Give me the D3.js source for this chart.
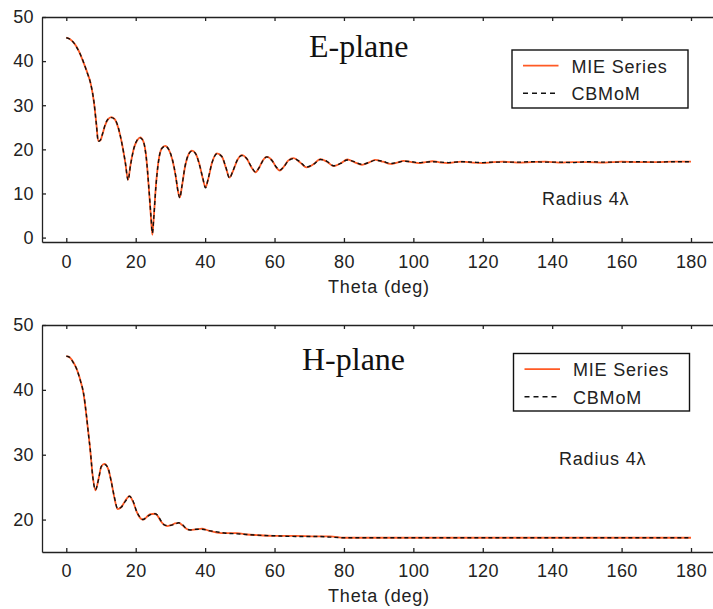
<!DOCTYPE html>
<html>
<head>
<meta charset="utf-8">
<script src="https://cdn.jsdelivr.net/npm/d3@7"></script>
<style>
  html, body { margin: 0; padding: 0; background: #fff; }
  svg { display: block; }
  .axis path, .axis line { stroke: #222; stroke-width: 1.3; }
  .axis text { font-family: "Liberation Sans", Arial, sans-serif; font-size: 18px; fill: #222; letter-spacing: 0.4px; }
  .lbl { font-family: "Liberation Sans", Arial, sans-serif; font-size: 18px; fill: #222; letter-spacing: 0.8px; }
  .title { font-family: "Liberation Serif", "Times New Roman", serif; font-size: 32px; fill: #111; }
</style>
</head>
<body>
<svg id="chart" width="713" height="609"></svg>
<script>
const W = 713;
const H = 609;
const ORANGE = '#ff5a24';

// E-plane, theta (deg) and RCS values
const eTheta = [0, 1, 2, 3, 4, 5, 6, 7, 8, 8.7, 9.2, 9.8, 10.4, 11.2, 12, 13, 14, 15, 16, 17, 17.8,
  18.5, 19.5, 20.4, 21.3, 22.2, 23, 23.8, 24.4, 24.8, 25.2, 25.8, 26.6, 27.5, 28.5, 29.5, 30.5, 31.5,
  32.2, 32.7, 33.3, 34.2, 35.2, 36.2, 37.2, 38.3, 39.3, 40.1, 40.9, 42, 43.4, 44.8, 46, 47, 48, 49.3,
  50.6, 52, 53.3, 54.5, 55.6, 56.7, 57.8, 59.3, 60.5, 61.5, 62.6, 64, 65.5, 67.3, 69.2, 71.2, 73.2,
  75.1, 77, 79, 81, 83, 85.2, 87.1, 89, 91.2, 93.4, 95.3, 97.2, 99.5, 101.5, 103.5, 105.5, 108, 110,
  112, 114, 117, 120, 123, 126, 130, 134, 138, 142, 146, 150, 155, 160, 165, 170, 175, 180];
const eMie = [45.3, 45.0, 44.3, 43.2, 41.6, 39.6, 37.5, 35.0, 30.5, 25.5, 21.9, 22.0, 23.4, 25.5, 26.8,
  27.3, 26.8, 24.8, 21.5, 17.0, 13.1, 16.5, 20.3, 22.0, 22.7, 21.8, 18.5, 11.0, 4.5, 0.6, 4.5, 11.5,
  17.5, 20.2, 20.8, 20.0, 17.8, 14.0, 10.5, 9.1, 11.5, 16.0, 18.8, 19.7, 19.1, 16.8, 13.5, 11.4, 13.3,
  17.0, 19.1, 18.4, 15.8, 13.6, 15.0, 17.6, 18.7, 17.9, 16.0, 14.8, 15.9, 17.6, 18.3, 17.5, 15.9, 15.2,
  16.0, 17.5, 18.0, 17.1, 15.9, 16.6, 17.8, 17.2, 16.2, 16.8, 17.7, 17.1, 16.5, 17.0, 17.6, 17.2, 16.7,
  17.0, 17.4, 17.1, 16.9, 17.1, 17.3, 17.0, 16.9, 17.1, 17.2, 17.0, 16.9, 17.1, 17.2, 17.0, 17.1, 17.2,
  17.0, 17.1, 17.1, 17.0, 17.2, 17.1, 17.1, 17.2, 17.2];
const eMom = [45.3, 45.0, 44.3, 43.1, 41.6, 39.7, 37.4, 35.0, 30.6, 25.4, 21.8, 22.1, 23.4, 25.6, 26.8,
  27.2, 26.8, 24.9, 21.4, 17.1, 13.0, 16.4, 20.3, 22.1, 22.6, 21.8, 18.4, 11.2, 4.8, 1.0, 4.4, 11.4,
  17.4, 20.2, 20.7, 20.0, 17.9, 14.1, 10.4, 9.0, 11.6, 16.1, 18.8, 19.6, 19.1, 16.7, 13.6, 11.3, 13.4,
  17.0, 19.0, 18.4, 15.9, 13.5, 15.1, 17.6, 18.6, 17.9, 16.1, 14.9, 15.9, 17.5, 18.3, 17.4, 16.0, 15.3,
  16.0, 17.4, 17.9, 17.2, 16.0, 16.6, 17.7, 17.3, 16.3, 16.8, 17.6, 17.2, 16.6, 17.0, 17.5, 17.3, 16.8,
  17.0, 17.3, 17.2, 17.0, 17.1, 17.2, 17.1, 17.0, 17.1, 17.2, 17.1, 17.0, 17.1, 17.1, 17.1, 17.2, 17.1,
  17.1, 17.0, 17.2, 17.1, 17.1, 17.2, 17.1, 17.2, 17.2];

// H-plane
const hTheta = [0, 1, 2, 3, 4, 5, 5.8, 6.4, 6.9, 7.6, 8.4, 9.3, 10.1, 11, 12, 13, 13.8, 14.8, 15.8, 17,
  18.2, 19.2, 20.3, 21.2, 22.1, 23, 24, 25.6, 26.4, 27.3, 28.2, 29, 30, 31.3, 32.4, 33.5, 34.6, 35.7,
  37.4, 39.1, 41, 43.4, 46, 49.2, 52, 55, 60, 66, 72, 76, 80, 90, 100, 120, 140, 160, 180];
const hMie = [45.2, 45.0, 44.3, 43.2, 41.6, 39.3, 36.0, 33.2, 30.7, 26.8, 24.5, 26.3, 28.2, 28.6, 27.9,
  25.8, 23.5, 21.6, 21.9, 22.9, 23.6, 22.8, 21.2, 20.3, 20.0, 20.3, 20.8, 20.9, 20.5, 19.7, 19.2, 19.0,
  19.1, 19.4, 19.5, 19.1, 18.6, 18.4, 18.5, 18.6, 18.3, 18.0, 17.9, 17.9, 17.7, 17.6, 17.5, 17.5, 17.4,
  17.4, 17.2, 17.2, 17.2, 17.2, 17.2, 17.2, 17.2];
const hMom = [45.2, 45.0, 44.2, 43.2, 41.5, 39.4, 36.1, 33.1, 30.8, 26.7, 24.6, 26.2, 28.2, 28.5, 28.0,
  25.7, 23.6, 21.7, 21.9, 22.8, 23.6, 22.9, 21.2, 20.4, 20.0, 20.3, 20.7, 20.9, 20.6, 19.8, 19.2, 19.1,
  19.1, 19.3, 19.5, 19.2, 18.6, 18.4, 18.5, 18.5, 18.3, 18.1, 17.9, 17.8, 17.7, 17.6, 17.5, 17.4, 17.4,
  17.3, 17.2, 17.2, 17.2, 17.2, 17.2, 17.2, 17.2];

const xTicks = [0, 20, 40, 60, 80, 100, 120, 140, 160, 180];
const eYTicks = [0, 10, 20, 30, 40, 50];
const hYTicks = [20, 30, 40, 50];
const seriesNames = ['MIE Series', 'CBMoM'];

const svg = d3.select('#chart');

const x = d3.scaleLinear().domain([-7, 187]).range([42, 715.3]);

const panels = [
  {
    id: 'e', title: 'E-plane', titleX: 309, titleY: 57,
    top: 17, bottom: 242, yDomain: [-1, 50], yTicks: eYTicks,
    theta: eTheta, mie: eMie, mom: eMom,
    legend: { x: 512, y: 50, w: 176, h: 58 },
    note: { x: 542, y: 205 },
    tickPad: 13, labelY: 293
  },
  {
    id: 'h', title: 'H-plane', titleX: 302, titleY: 370,
    top: 325, bottom: 552, yDomain: [15, 50], yTicks: hYTicks,
    theta: hTheta, mie: hMie, mom: hMom,
    legend: { x: 513.5, y: 353.5, w: 176, h: 57.5 },
    note: { x: 559, y: 465 },
    tickPad: 12, labelY: 601.5
  }
];

function drawPanel(p) {
  const y = d3.scaleLinear().domain(p.yDomain).range([p.bottom, p.top]);
  const g = svg.append('g').attr('class', `panel panel--${p.id}`);

  g.append('clipPath').attr('id', `clip-${p.id}`)
    .append('rect')
    .attr('x', x.range()[0]).attr('y', p.top)
    .attr('width', x.range()[1] - x.range()[0]).attr('height', p.bottom - p.top);

  const line = vals => d3.line()
    .x((d, i) => x(p.theta[i]))
    .y(d => y(d))
    .curve(d3.curveMonotoneX)(vals);

  const $lines = g.append('g').attr('clip-path', `url(#clip-${p.id})`);
  $lines.append('path')
    .attr('d', line(p.mie))
    .attr('fill', 'none')
    .attr('stroke', ORANGE)
    .attr('stroke-width', 1.8);
  $lines.append('path')
    .attr('d', line(p.mom))
    .attr('fill', 'none')
    .attr('stroke', '#111')
    .attr('stroke-width', 1.4)
    .attr('stroke-dasharray', '4,3');

  // axes, ticks pointing inward
  const axB = g.append('g').attr('class', 'axis')
    .attr('transform', `translate(0,${p.bottom})`)
    .call(d3.axisBottom(x).tickValues(xTicks).tickSizeInner(-4).tickSizeOuter(0).tickPadding(p.tickPad));
  axB.selectAll('text').attr('dy', '0.71em');

  g.append('g').attr('class', 'axis')
    .attr('transform', `translate(0,${p.top})`)
    .call(d3.axisTop(x).tickValues(xTicks).tickSizeInner(-4).tickSizeOuter(0).tickFormat(''));

  g.append('g').attr('class', 'axis')
    .attr('transform', `translate(${x.range()[0]},0)`)
    .call(d3.axisLeft(y).tickValues(p.yTicks).tickSizeInner(-4).tickSizeOuter(0).tickPadding(8));

  g.append('text').attr('class', 'lbl')
    .attr('x', 379).attr('y', p.labelY)
    .attr('text-anchor', 'middle')
    .text('Theta (deg)');

  g.append('text').attr('class', 'title')
    .attr('x', p.titleX).attr('y', p.titleY)
    .text(p.title);

  // legend
  const L = p.legend;
  const $leg = g.append('g').attr('transform', `translate(${L.x},${L.y})`);
  $leg.append('rect')
    .attr('width', L.w).attr('height', L.h)
    .attr('fill', '#fff').attr('stroke', '#111').attr('stroke-width', 1.4);
  seriesNames.forEach((name, i) => {
    const ly = 15.7 + i * 27.5;
    $leg.append('line')
      .attr('x1', 11).attr('x2', 46.5).attr('y1', ly).attr('y2', ly)
      .attr('stroke', i === 0 ? ORANGE : '#111')
      .attr('stroke-width', i === 0 ? 1.8 : 1.4)
      .attr('stroke-dasharray', i === 0 ? null : '5,4');
    $leg.append('text').attr('class', 'lbl')
      .attr('x', 59.5).attr('y', ly + 7)
      .text(name);
  });

  g.append('text').attr('class', 'lbl')
    .attr('x', p.note.x).attr('y', p.note.y)
    .text('Radius 4λ');
}

panels.forEach(drawPanel);
</script>
</body>
</html>
